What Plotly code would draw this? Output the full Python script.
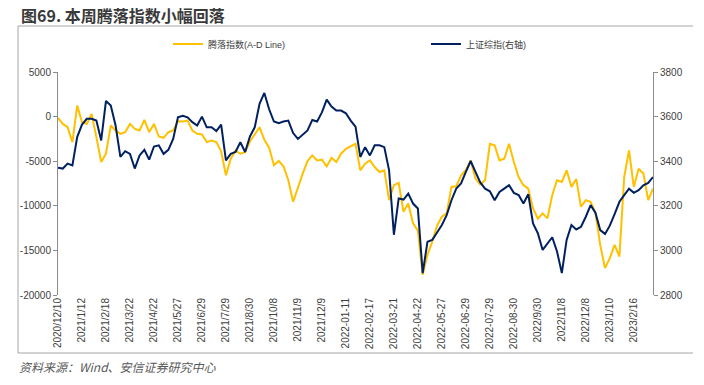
import numpy as np
import plotly.graph_objects as go

# ---------------- data ----------------
tick_labels = ["2020/12/10", "2021/1/12", "2021/2/18", "2021/3/22", "2021/4/22", "2021/5/27",
               "2021/6/29", "2021/7/29", "2021/8/30", "2021/10/8", "2021/11/9", "2021/12/9",
               "2022-01-11", "2022-02-17", "2022-03-21", "2022-04-22", "2022-05-27", "2022-06-29",
               "2022-07-29", "2022-08-30", "2022/9/30", "2022/11/8", "2022/12/8", "2023/1/10",
               "2023/2/16"]

samples_per_label = 5

ad_line = [
    -150, -820, -1190, -2860, 1230, -630, -820, 300, -2300, -5090,
    -4160, -1000, -1560, -1930, -1750, -820, -1380, -1560, -370, -1750,
    -820, -2230, -2380, -1750, -1560, -520, -560, -450, -1560, -1930,
    -2010, -2860, -2680, -2860, -3900, -6580, -4720, -3790, -4160, -3980,
    -2790, -1930, -1190, -2600, -3490, -5460, -4980, -5580, -7140, -9550,
    -7880, -6390, -4980, -4350, -4910, -4830, -5580, -4610, -5090, -4160,
    -3610, -3350, -3050, -6020, -5280, -4910, -5650, -6210, -6020, -9370,
    -7690, -7430, -10670, -9740, -11970, -12790, -17730, -15500, -14010, -12230,
    -11230, -10850, -7880, -7810, -6580, -6020, -4910, -6950, -7620, -7140,
    -3050, -3230, -4910, -4720, -3050, -5090, -6770, -7690, -8070, -10300,
    -11450, -10850, -11410, -8810, -7140, -7320, -6020, -7880, -6990, -10110,
    -9370, -9550, -10780, -14380, -16990, -15870, -14380, -15690, -6770, -3790,
    -7880, -5840, -6390, -9370, -8070,
]

sh_index = [
    3371, 3367, 3389, 3381, 3508, 3564, 3590, 3590, 3582, 3493,
    3670, 3650, 3560, 3419, 3445, 3433, 3367, 3426, 3451, 3407,
    3466, 3471, 3433, 3451, 3500, 3597, 3604, 3597, 3575, 3560,
    3600, 3552, 3552, 3535, 3564, 3404, 3433, 3441, 3485, 3441,
    3511, 3552, 3657, 3706, 3633, 3578, 3570, 3578, 3582, 3526,
    3500, 3520, 3538, 3585, 3578, 3619, 3676, 3645, 3627, 3627,
    3615, 3582, 3555, 3419, 3463, 3426, 3471, 3471, 3463, 3359,
    3070, 3233, 3228, 3255, 3210, 3188, 2898, 3039, 3047, 3080,
    3114, 3158, 3225, 3277, 3300, 3352, 3401, 3352, 3305, 3277,
    3265, 3225, 3262, 3277, 3292, 3258, 3248, 3210, 3252, 3121,
    3077, 3002, 3032, 3059, 2995, 2898, 3047, 3114, 3094, 3106,
    3151, 3203, 3169, 3091, 3074, 3111, 3163, 3218, 3248, 3277,
    3258, 3270, 3292, 3303, 3329,
]

left_ticks = [-20000, -15000, -10000, -5000, 0, 5000]
right_ticks = [2800, 3000, 3200, 3400, 3600, 3800]

# ---------------- figure ----------------
x = np.arange(len(ad_line)) / samples_per_label
tick_pos = list(range(len(tick_labels)))

FONT = "Liberation Sans, Arial, Noto Sans CJK SC, sans-serif"
CJK = "Noto Sans CJK SC, sans-serif"

fig = go.Figure()
fig.add_trace(go.Scatter(x=x, y=ad_line, mode="lines", name="腾落指数(A-D Line)",
                         line=dict(color="#FFC000", width=2), legend="legend"))
fig.add_trace(go.Scatter(x=x, y=sh_index, mode="lines", name="上证综指(右轴)",
                         line=dict(color="#002060", width=2), yaxis="y2", legend="legend2"))

W, H = 704, 385
ml, mr, mt, mb = 58, 51, 72, 90
pw, ph = W - ml - mr, H - mt - mb


def px2paper_x(px):
    return (px - ml) / pw


def px2paper_y(py):
    return (H - mb - py) / ph


fig.update_layout(
    width=W, height=H,
    margin=dict(l=ml, r=mr, t=mt, b=mb, autoexpand=False),
    paper_bgcolor="white", plot_bgcolor="white",
    font=dict(family=FONT, size=10, color="#404040"),
    xaxis=dict(range=[0, 24.8], tickmode="array", tickvals=tick_pos, ticktext=tick_labels,
               tickangle=-90, showgrid=False, zeroline=False, showline=False, ticks="",
               tickfont=dict(size=10, color="#404040"), fixedrange=True, automargin=False),
    yaxis=dict(range=[-20000, 5000], tickmode="array", tickvals=left_ticks,
               ticktext=[str(v) for v in left_ticks], showgrid=False, zeroline=False,
               showline=True, linecolor="#8c8c8c", linewidth=1, ticks="outside", ticklen=4,
               tickcolor="#8c8c8c", tickfont=dict(size=10, color="#404040"), automargin=False),
    yaxis2=dict(range=[2800, 3800], tickmode="array", tickvals=right_ticks,
                ticktext=[str(v) for v in right_ticks], overlaying="y", side="right",
                showgrid=False, zeroline=False, showline=True, linecolor="#8c8c8c", linewidth=1,
                ticks="outside", ticklen=4, tickcolor="#8c8c8c",
                tickfont=dict(size=10, color="#404040"), automargin=False),
    legend=dict(orientation="h", x=px2paper_x(168), y=px2paper_y(44), xanchor="left",
                yanchor="middle", font=dict(family=FONT, size=9, color="#404040"),
                bgcolor="rgba(0,0,0,0)", itemwidth=30),
    legend2=dict(orientation="h", x=px2paper_x(426), y=px2paper_y(44), xanchor="left",
                 yanchor="middle", font=dict(family=FONT, size=9, color="#404040"),
                 bgcolor="rgba(0,0,0,0)", itemwidth=30),
    showlegend=True,
)

# chart frame lines (top, left, bottom)
frame_col = "#a6a6a6"
for (x0, y0, x1, y1) in [(18, 26, 693, 26), (18, 26, 18, 353), (18, 353, 693, 353)]:
    fig.add_shape(type="line", xref="paper", yref="paper",
                  x0=px2paper_x(x0), x1=px2paper_x(x1), y0=px2paper_y(y0), y1=px2paper_y(y1),
                  line=dict(color=frame_col, width=1))

# title
fig.add_annotation(text="<b>图69. 本周腾落指数小幅回落</b>", xref="paper", yref="paper",
                   x=px2paper_x(19), y=px2paper_y(15), xanchor="left", yanchor="middle",
                   showarrow=False, font=dict(family=CJK, size=16, color="#3a3a3a"))

# source
fig.add_annotation(text="资料来源：Wind、安信证券研究中心", xref="paper", yref="paper",
                   x=px2paper_x(17), y=px2paper_y(366), xanchor="left", yanchor="middle",
                   showarrow=False,
                   font=dict(family=CJK, size=12, color="#595959", style="italic"))

fig.write_html("out.html", config={"displayModeBar": False},
               post_script="document.body.style.margin='0';document.body.style.padding='0';")
